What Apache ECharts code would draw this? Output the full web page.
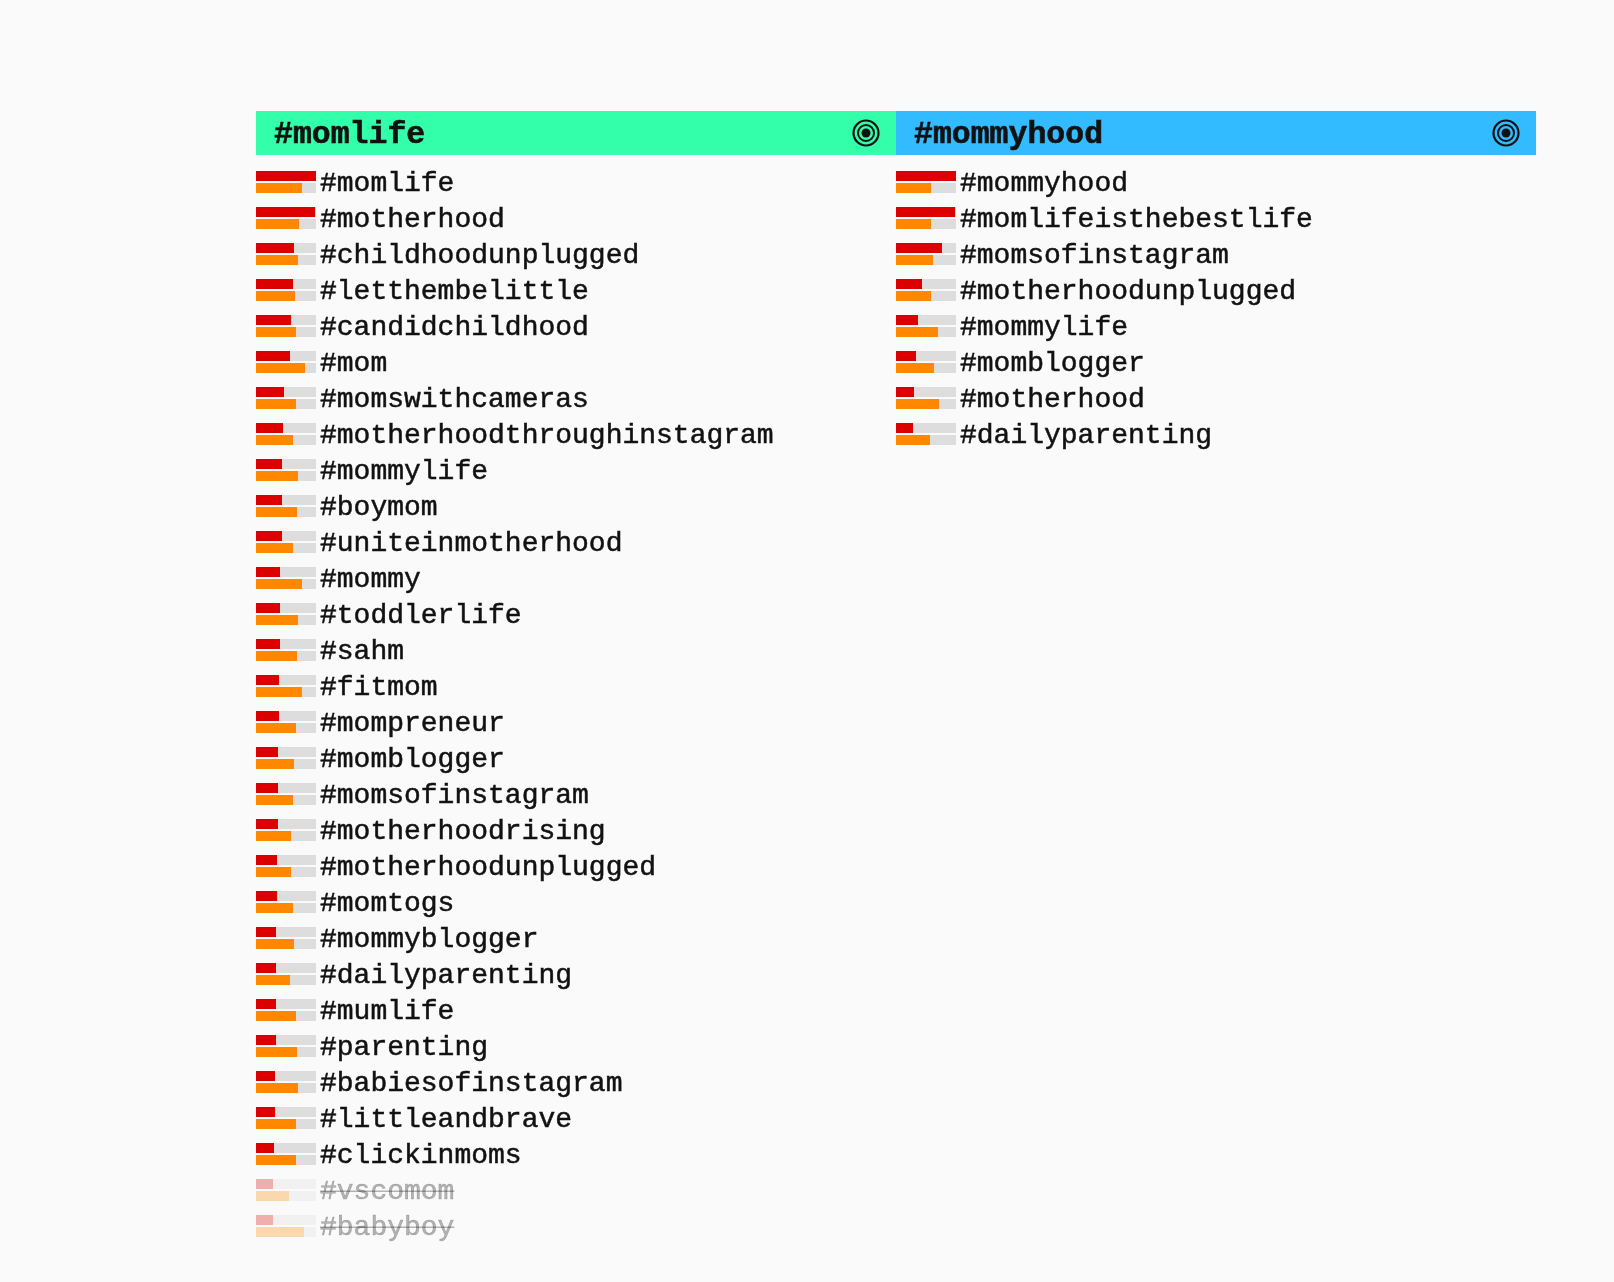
<!DOCTYPE html>
<html>
<head>
<meta charset="utf-8">
<style>html,body{margin:0;padding:0;background:#fafafa}#chart{width:1614px;height:1282px}</style>
<script src="https://cdn.jsdelivr.net/npm/echarts@6/dist/echarts.min.js"></script>
</head>
<body>
<div id="chart"></div>
<script>
// Track length (full bar) on the value scale
const trackMax = 60;

const leftTitle = '#momlife';
const leftTags = ['#momlife','#motherhood','#childhoodunplugged','#letthembelittle','#candidchildhood','#mom','#momswithcameras','#motherhoodthroughinstagram','#mommylife','#boymom','#uniteinmotherhood','#mommy','#toddlerlife','#sahm','#fitmom','#mompreneur','#momblogger','#momsofinstagram','#motherhoodrising','#motherhoodunplugged','#momtogs','#mommyblogger','#dailyparenting','#mumlife','#parenting','#babiesofinstagram','#littleandbrave','#clickinmoms','#vscomom','#babyboy'];
const leftRed = [60,59,38,37,35,34,28,27,26,26,26,24,24,24,23,23,22,22,22,21,21,20,20,20,20,19,19,18,17,17];
const leftOrange = [46,43,42,39,40,49,40,37,42,41,37,46,42,41,46,40,38,37,35,35,37,38,34,40,41,42,40,40,33,48];
const leftStruck = ['#vscomom','#babyboy'];

const rightTitle = '#mommyhood';
const rightTags = ['#mommyhood','#momlifeisthebestlife','#momsofinstagram','#motherhoodunplugged','#mommylife','#momblogger','#motherhood','#dailyparenting'];
const rightRed = [60,59,46,26,22,20,18,17];
const rightOrange = [35,35,37,35,42,38,43,34];
const rightStruck = [];

const FONT = '"Liberation Mono","Courier New",monospace';
const RED = '#dd0000', ORANGE = '#ff8800', TRACK = '#dddddd';
const INK = '#111111', FADED_INK = 'rgba(17,17,17,0.3)';
const FADE = 0.3, ROW = 36, TOP = 164;

const columns = [
  {title:leftTitle, tags:leftTags, red:leftRed, orange:leftOrange, struck:leftStruck, x:256, head:'#33ffaa'},
  {title:rightTitle, tags:rightTags, red:rightRed, orange:rightOrange, struck:rightStruck, x:896, head:'#33bbff'}
];

function pts(values, tags, struck, color){
  return values.map((v,i)=>({value:v, itemStyle:{color, opacity:struck.includes(tags[i])?FADE:1}}));
}

const labelBase = {fontFamily:FONT, fontSize:28, textBorderWidth:0.5, padding:[4,0,0,0]};
const grid=[], xAxis=[], yAxis=[], series=[], title=[], graphic=[];
columns.forEach((c,idx)=>{
  grid.push({left:c.x, top:TOP, width:trackMax, height:ROW*c.tags.length, containLabel:false});
  xAxis.push({gridIndex:idx, type:'value', min:0, max:trackMax, show:false});
  yAxis.push({gridIndex:idx, type:'category', data:c.tags, inverse:true, position:'right',
    axisLine:{show:false}, axisTick:{show:false}, splitLine:{show:false},
    axisLabel:{show:true, interval:0, margin:4,
      formatter:(v)=>(c.struck.includes(v)?'{f|':'{n|')+v+'}',
      rich:{
        n:{...labelBase, color:INK, textBorderColor:INK},
        f:{...labelBase, color:FADED_INK, textBorderColor:FADED_INK}
      }}});
  const common = {type:'bar', xAxisIndex:idx, yAxisIndex:idx, barWidth:10, barGap:'20%', silent:true, animation:false};
  series.push(
    {...common, name:c.title+' red', stack:'r'+idx, data:pts(c.red,c.tags,c.struck,RED)},
    {...common, name:c.title+' red track', stack:'r'+idx, data:pts(c.red.map(v=>trackMax-v),c.tags,c.struck,TRACK)},
    {...common, name:c.title+' orange', stack:'o'+idx, data:pts(c.orange,c.tags,c.struck,ORANGE)},
    {...common, name:c.title+' orange track', stack:'o'+idx, data:pts(c.orange.map(v=>trackMax-v),c.tags,c.struck,TRACK)}
  );
  title.push({text:c.title, left:c.x+18, top:117, padding:0,
    textStyle:{fontFamily:FONT, fontSize:31.5, fontWeight:'bold', color:INK, lineHeight:36,
      textBorderColor:INK, textBorderWidth:0.6}});
  graphic.push(
    {type:'rect', z:-1, shape:{x:c.x, y:111, width:640, height:44}, style:{fill:c.head}},
    {type:'circle', z:1, shape:{cx:c.x+610, cy:133, r:12.5}, style:{fill:'none', stroke:INK, lineWidth:2.2}},
    {type:'circle', z:1, shape:{cx:c.x+610, cy:133, r:8}, style:{fill:'none', stroke:INK, lineWidth:2}},
    {type:'circle', z:1, shape:{cx:c.x+610, cy:133, r:4.5}, style:{fill:INK}}
  );
});

const chart = echarts.init(document.getElementById('chart'), null, {renderer:'canvas'});
chart.setOption({backgroundColor:'#fafafa', animation:false, grid, xAxis, yAxis, series, title, graphic});

// Strike-through for the struck tags, positioned from the axis scale
const strikes=[];
columns.forEach((c,idx)=>{
  c.struck.forEach(tag=>{
    const y = chart.convertToPixel({yAxisIndex:idx}, tag);
    const x0 = chart.convertToPixel({xAxisIndex:idx}, trackMax) + 4;
    strikes.push({type:'rect', z:10, shape:{x:x0, y:y+0.5, width:tag.length*16.8, height:1.5}, style:{fill:FADED_INK}});
  });
});
chart.setOption({graphic:graphic.concat(strikes)});
</script>
</body>
</html>
